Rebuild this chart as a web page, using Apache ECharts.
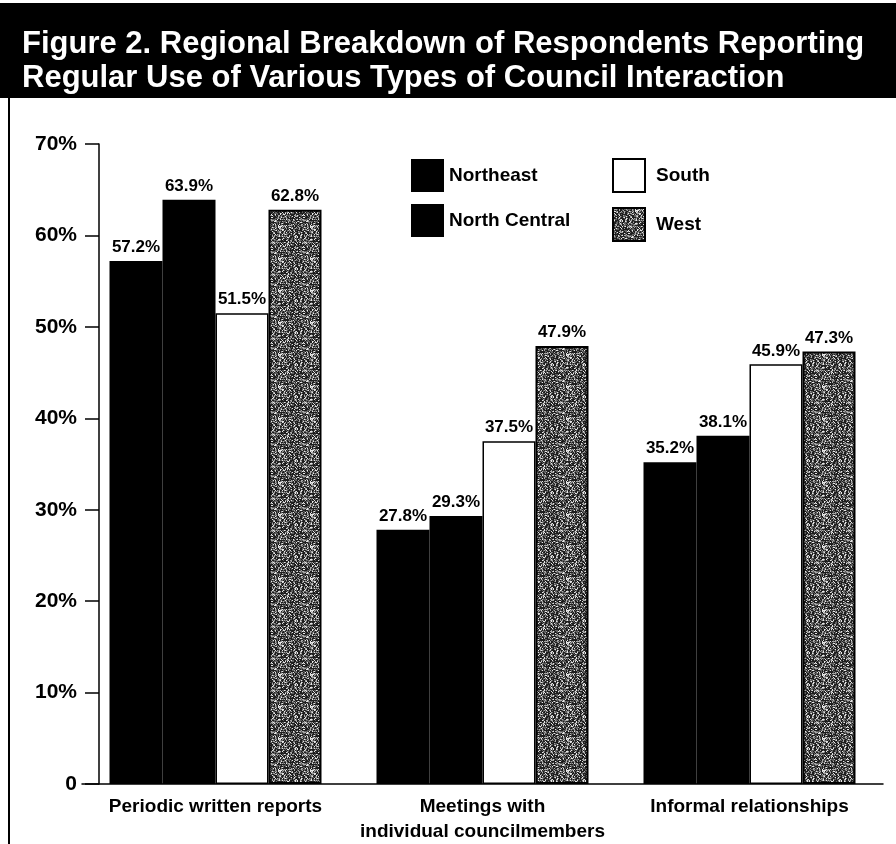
<!DOCTYPE html>
<html>
<head>
<meta charset="utf-8">
<script src="https://cdn.jsdelivr.net/npm/echarts@6/dist/echarts.min.js"></script>
<style>
  html, body { margin: 0; padding: 0; background: #fff; }
  #chart { width: 896px; height: 844px; }
</style>
</head>
<body>
<div id="chart"></div>
<script>
const categories = ['Periodic written reports', 'Meetings with\nindividual councilmembers', 'Informal relationships'];
const northeast = [57.2, 27.8, 35.2];
const northCentral = [63.9, 29.3, 38.1];
const south = [51.5, 37.5, 45.9];
const west = [62.8, 47.9, 47.3];
const yTicks = [0, 10, 20, 30, 40, 50, 60, 70];

const FONT = '"Liberation Sans", Arial, sans-serif';

// speckled grey texture for the West bars (fixed hash pattern, not data)
function speckle() {
  const c = document.createElement('canvas');
  c.width = 32; c.height = 32;
  const ctx = c.getContext('2d');
  for (let x = 0; x < 32; x++) {
    for (let y = 0; y < 32; y++) {
      let h = (x * 374761393 + y * 668265263) | 0;
      h = Math.imul(h ^ (h >>> 13), 1274126177);
      const v = ((h ^ (h >>> 16)) >>> 0) % 100;
      ctx.fillStyle = v < 42 ? '#1e1e1e' : (v < 72 ? '#5e5e5e' : (v < 88 ? '#a8a8a8' : '#e6e6e6'));
      ctx.fillRect(x, y, 1, 1);
    }
  }
  return c;
}

const chart = echarts.init(document.getElementById('chart'));

const label = {
  show: true,
  position: 'top',
  distance: 5,
  color: '#000',
  fontFamily: FONT,
  fontWeight: 'bold',
  fontSize: 17,
  formatter: p => p.value.toFixed(1) + '%'
};

chart.setOption({
  animation: false,
  backgroundColor: '#fff',
  title: {
    text: 'Figure 2. Regional Breakdown of Respondents Reporting\nRegular Use of Various Types of Council Interaction',
    left: 17,
    top: 22,
    z: 10,
    textStyle: {
      color: '#fff',
      fontFamily: FONT,
      fontWeight: 'bold',
      fontSize: 31,
      lineHeight: 34
    }
  },
  graphic: [
    { type: 'rect', shape: { x: 0, y: 3, width: 896, height: 95 }, style: { fill: '#000' } },
    { type: 'line', shape: { x1: 9, y1: 97, x2: 9, y2: 844 }, style: { stroke: '#000', lineWidth: 2 } }
  ],
  legend: [
    {
      left: 411, top: 159, orient: 'vertical', padding: 0,
      icon: 'rect', itemWidth: 33, itemHeight: 33, itemGap: 12,
      data: ['Northeast', 'North Central'],
      textStyle: { fontFamily: FONT, fontWeight: 'bold', fontSize: 19, color: '#000' }
    },
    {
      left: 612, top: 158, orient: 'vertical', padding: 0,
      icon: 'rect', itemWidth: 32, itemHeight: 33, itemGap: 14,
      data: ['South', 'West'],
      textStyle: { fontFamily: FONT, fontWeight: 'bold', fontSize: 19, color: '#000', padding: [0, 0, 0, 6] }
    }
  ],
  grid: { left: 82, right: 13, top: 144, bottom: 60 },
  xAxis: {
    type: 'category',
    data: categories,
    axisLine: { lineStyle: { color: '#000', width: 1.5 } },
    axisTick: { show: false },
    axisLabel: {
      interval: 0,
      margin: 10,
      color: '#000',
      fontFamily: FONT,
      fontWeight: 'bold',
      fontSize: 19,
      lineHeight: 25
    }
  },
  yAxis: {
    type: 'value',
    min: 0,
    max: 70,
    interval: 10,
    offset: -17,
    splitLine: { show: false },
    axisLine: { show: true, lineStyle: { color: '#000', width: 1.5 } },
    axisTick: { show: true, length: 14, lineStyle: { color: '#000', width: 1.5 } },
    axisLabel: {
      margin: 22,
      color: '#000',
      fontFamily: FONT,
      fontWeight: 'bold',
      fontSize: 21,
      formatter: v => (yTicks.indexOf(v) === 0 ? '0' : v + '%')
    }
  },
  series: [
    { name: 'Northeast', type: 'bar', data: northeast, barGap: '0%', barCategoryGap: '20.6%',
      itemStyle: { color: '#000' }, label },
    { name: 'North Central', type: 'bar', data: northCentral,
      itemStyle: { color: '#000' }, label },
    { name: 'South', type: 'bar', data: south,
      itemStyle: { color: '#fff', borderColor: '#000', borderWidth: 1.5 }, label },
    { name: 'West', type: 'bar', data: west,
      itemStyle: { color: { image: speckle(), repeat: 'repeat' }, borderColor: '#000', borderWidth: 2 }, label }
  ]
});
</script>
</body>
</html>
